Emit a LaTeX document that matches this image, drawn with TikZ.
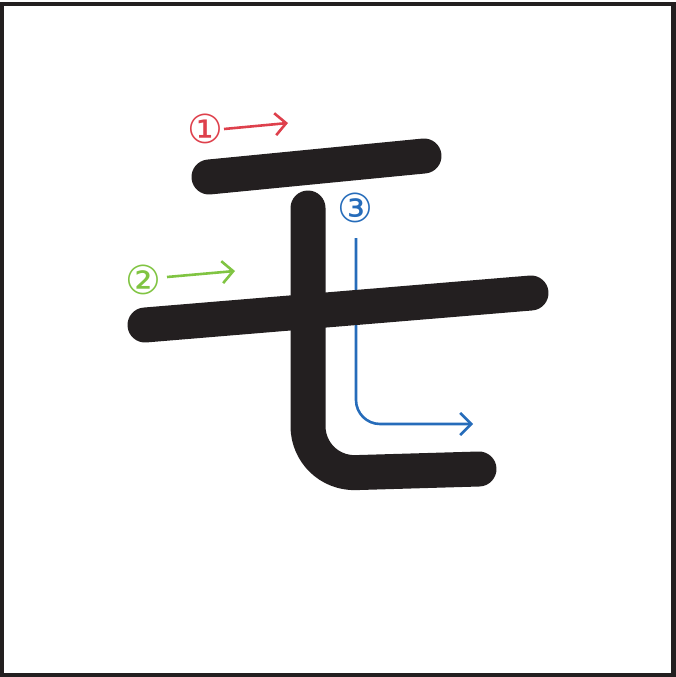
\documentclass[tikz,border=0pt]{standalone}
\usepackage{fontspec}
\newfontfamily\symfont{DejaVu Sans}
\usetikzlibrary{arrows.meta}

\definecolor{inkblack}{RGB}{35,31,32}
\definecolor{orderred}{RGB}{222,64,76}
\definecolor{ordergreen}{RGB}{128,196,66}
\definecolor{orderblue}{RGB}{38,108,186}

\tikzset{
  brush/.style={line width=35, line cap=round, line join=round, color=inkblack},
  guide/.style={line width=2.6, -{Straight Barb[length=11,width=22,line width=2.6]}},
  numlabel/.style={inner sep=0, font=\symfont\fontsize{40}{40}\selectfont}
}

\begin{document}
\begin{tikzpicture}[x=1pt,y=-1pt]
      \useasboundingbox (0,0) rectangle (676,677);
      % frame
      \draw[line width=4.5, color=inkblack] (2,4) rectangle (673.5,675);

      % stroke order numbers
      \node[numlabel, text=orderred] (n1) at (205,129) {①};
      \node[numlabel, text=ordergreen] (n2) at (143,280) {②};
      \node[numlabel, text=orderblue] (n3) at (355,208) {③};

      % arrow ends
      \coordinate (s1) at (224,129);
      \coordinate (e1) at (288,123);
      \coordinate (s2) at (167,277);
      \coordinate (e2) at (235,271);
      \coordinate (s3) at (356,238);
      \coordinate (e3) at (473,424);

      % guides (blue one runs under the strokes)
      \draw[guide, orderred] (s1) -- (e1);
      \draw[guide, ordergreen] (s2) -- (e2);
      \draw[guide, orderblue, rounded corners=24] (s3) |- (e3);

      % the character
      \draw[brush] (209,177) -- (424,156);
      \draw[brush] (145,325) -- (531,293);
      \draw[brush, rounded corners=48] (308,208) -- (308,474) -- (479,469);
\end{tikzpicture}
\end{document}
